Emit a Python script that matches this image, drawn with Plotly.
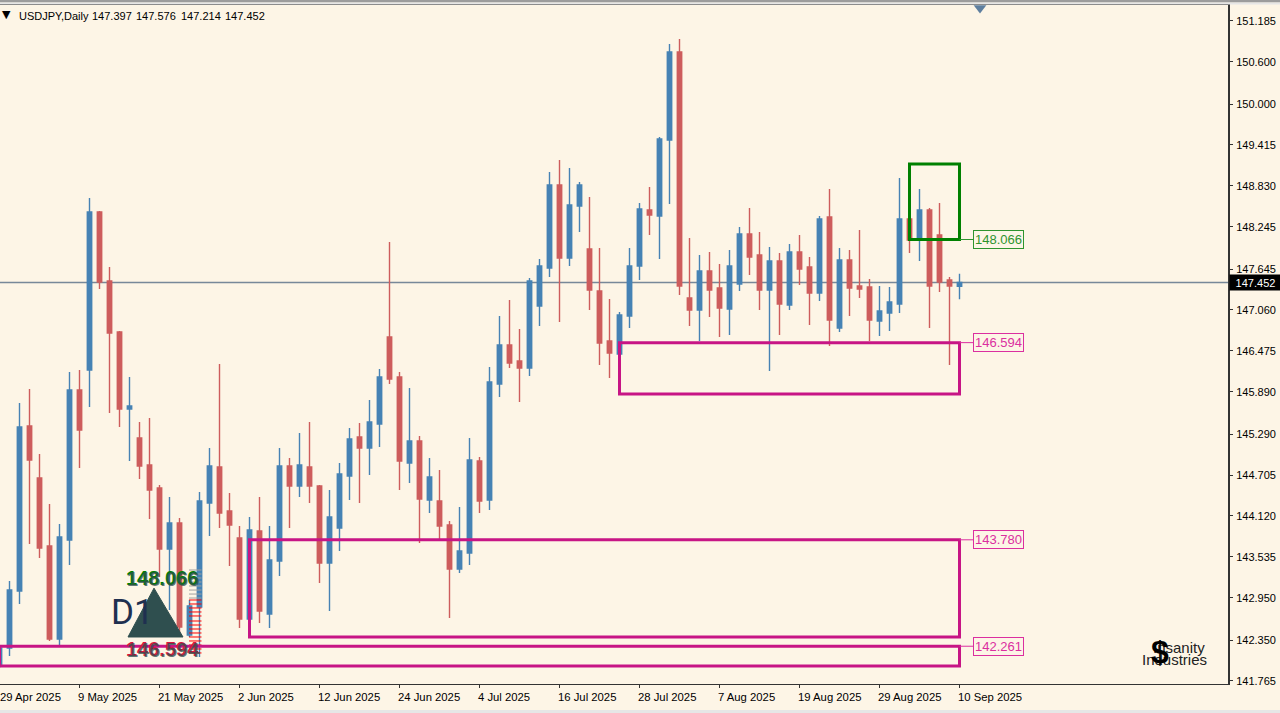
import plotly.graph_objects as go

BG = "#FDF5E6"
BLUE = "#4682B4"
RED = "#CD5C5C"
MAGENTA = "#C71585"
GREEN = "#008000"
SLATE = "#2F4F4F"
FONT = "Liberation Sans"

opens = [141.979,142.236,143.049,145.404,144.662,143.692,142.364,143.777,145.918,146.204,
148.459,147.474,146.746,145.647,145.232,144.847,144.519,143.649,144.020,142.421,
142.821,144.305,144.819,144.191,143.806,142.650,143.906,142.721,143.477,144.833,
144.548,144.819,144.548,143.449,143.948,144.691,145.247,145.090,145.433,146.675,
146.104,144.876,145.190,144.348,144.334,143.991,143.363,143.592,144.905,144.348,
146.004,146.560,146.332,146.232,147.117,147.660,148.844,147.802,148.545,147.931,
147.331,146.618,146.432,146.974,147.688,148.488,148.402,149.487,150.743,147.231,
147.060,147.617,147.374,147.075,147.431,148.145,147.845,147.346,147.759,147.131,
147.888,147.674,147.303,148.388,146.803,147.774,147.403,147.388,146.903,147.017,
147.146,148.359,148.073,148.488,148.131,147.488,147.397]
closes = [142.236,143.063,145.390,144.919,143.663,142.364,143.820,145.918,145.347,148.459,
147.460,146.732,145.647,145.689,144.833,144.491,143.649,144.020,142.536,142.835,
144.334,144.833,144.162,143.991,142.650,143.920,142.764,143.492,144.833,144.548,
144.847,144.548,143.449,144.106,144.719,145.219,145.090,145.461,146.104,146.075,
144.905,145.190,144.362,144.676,143.977,143.363,143.621,144.919,144.334,146.033,
146.560,146.303,146.232,147.474,147.688,148.844,147.802,148.559,148.844,147.346,
146.589,146.446,146.989,147.688,148.502,148.416,149.501,150.743,147.403,147.060,
147.617,147.346,147.089,147.688,148.145,147.816,147.346,147.759,147.146,147.888,
147.645,147.303,148.359,146.917,147.774,147.374,147.360,146.917,147.046,147.174,
148.359,148.059,148.488,147.403,147.460,147.403,147.452]
highs = [142.279,143.192,145.732,145.933,145.004,144.291,144.005,146.175,146.204,148.659,
148.473,147.674,146.761,146.104,145.461,145.518,144.562,144.391,144.091,142.921,
144.462,145.090,146.289,144.448,143.977,144.106,144.391,143.977,145.090,144.948,
145.304,145.461,144.562,144.491,144.876,145.376,145.447,145.775,146.218,148.030,
146.175,145.947,145.262,144.948,144.776,144.049,144.248,145.232,144.962,146.247,
146.974,147.203,146.789,147.517,147.788,149.030,149.201,149.087,148.887,148.673,
147.945,147.217,147.031,147.945,148.587,148.816,149.529,150.857,150.928,148.088,
147.845,147.888,147.717,147.916,148.245,148.516,148.174,147.959,147.874,148.002,
148.131,147.816,148.402,148.787,147.945,147.916,148.202,147.502,147.403,147.388,
148.944,148.373,148.787,148.516,148.587,147.531,147.576]
lows = [141.951,142.122,142.864,143.720,143.520,142.336,142.279,143.420,144.805,145.675,
147.360,145.589,145.390,144.905,144.648,144.077,143.250,142.778,142.407,142.393,
142.108,143.834,143.948,143.406,142.521,142.379,142.593,142.521,143.264,143.948,
144.391,144.305,143.164,142.764,143.621,144.348,144.305,144.705,145.105,146.004,
144.491,144.591,143.735,144.162,143.763,142.664,143.306,143.420,144.162,144.205,
145.818,146.232,145.747,146.118,146.832,147.531,146.889,147.688,148.174,147.060,
146.275,146.090,146.418,146.803,147.488,148.131,147.788,148.573,147.274,146.832,
146.618,146.960,146.675,146.703,147.331,147.560,147.060,146.189,146.703,147.060,
147.417,146.846,147.189,146.546,146.746,146.974,147.231,146.618,146.689,146.761,
147.017,147.874,147.759,146.803,147.317,146.275,147.214]

date_tick_index = [0,8,16,24,32,40,48,56,64,72,80,88,96]
date_tick_labels = ["29 Apr 2025","9 May 2025","21 May 2025","2 Jun 2025","12 Jun 2025","24 Jun 2025",
                    "4 Jul 2025","16 Jul 2025","28 Jul 2025","7 Aug 2025","19 Aug 2025","29 Aug 2025","10 Sep 2025"]
price_ticks = [151.185,150.600,150.000,149.415,148.830,148.245,147.645,147.060,146.475,
               145.890,145.290,144.705,144.120,143.535,142.950,142.350,141.765]

header_values = ["147.397", "147.576", "147.214", "147.452"]
last_price = 147.452
# boxes: start candle, top, bottom, colour
zones = [
    (91, 149.144, 148.066, GREEN),
    (62, 146.594, 145.861, MAGENTA),
    (25, 143.780, 142.393, MAGENTA),
    (0,  142.261, 141.979, MAGENTA),
]
zone_end = 96
zone_labels = [("148.066", 148.066, GREEN, "#2E942E"), ("146.594", 146.594, MAGENTA, "#DB2FA0"),
               ("143.780", 143.780, MAGENTA, "#DB2FA0"), ("142.261", 142.261, MAGENTA, "#DB2FA0")]
grey_ladder = [143.349,143.292,143.235,143.178,143.121,143.063,143.006,142.949]
red_ladder = [142.921,142.864,142.807,142.750,142.693,142.621,142.564,142.507,142.450,142.393,142.336,142.279,142.222,142.165]

x = list(range(len(opens)))
W, H = 1280, 713
ML, MR, MT, MB = 0, 52, 5, 29
PW, PH = W - ML - MR, H - MT - MB
X_START = 0.05

fig = go.Figure()
fig.add_trace(go.Candlestick(
    x=x, open=opens, high=highs, low=lows, close=closes, whiskerwidth=0,
    increasing=dict(line=dict(color=BLUE, width=1.4), fillcolor=BLUE),
    decreasing=dict(line=dict(color=RED, width=1.4), fillcolor=RED),
    showlegend=False, hoverinfo="skip"))

def ladder(levels, color, w=1):
    xs, ys = [], []
    for lv in levels:
        xs += [18.95, 20.2, None]
        ys += [lv, lv, None]
    fig.add_trace(go.Scatter(x=xs, y=ys, mode="lines", line=dict(color=color, width=w),
                             showlegend=False, hoverinfo="skip"))
ladder(grey_ladder, "#A0A0A0")
ladder(red_ladder, "#FF0000")

fig.add_trace(go.Scatter(x=[98.05], y=[151.37], mode="markers",
                         marker=dict(symbol="triangle-down", size=11, color="#5F7F9F"),
                         showlegend=False, hoverinfo="skip"))

shapes = [dict(type="line", xref="paper", yref="y", x0=0, x1=1, y0=last_price, y1=last_price,
               line=dict(color="#778899", width=1.4), layer="below")]
for start, top, bottom, col in zones:
    shapes.append(dict(type="rect", xref="x", yref="y", x0=start, x1=zone_end, y0=bottom, y1=top,
                       line=dict(color=col, width=3), fillcolor="rgba(0,0,0,0)", layer="above"))
for txt, lv, col, tcol in zone_labels:
    shapes.append(dict(type="line", xref="x", yref="y", x0=zone_end, x1=97.35, y0=lv, y1=lv,
                       line=dict(color=tcol, width=1), layer="above"))
shapes.append(dict(type="path", xref="x", yref="y",
                   path="M 12.85,142.393 L 15.45,143.09 L 18.35,142.393 Z",
                   fillcolor=SLATE, line=dict(color=SLATE, width=1), layer="above"))
# window chrome above and below the chart
shapes.append(dict(type="rect", xref="paper", yref="paper", x0=0, x1=W/PW, y0=(PH+MT-2.5)/PH, y1=(PH+MT)/PH,
                   fillcolor="#9C9C9C", line=dict(width=0), layer="above"))
shapes.append(dict(type="rect", xref="paper", yref="paper", x0=0, x1=W/PW, y0=(PH+MT-4.5)/PH, y1=(PH+MT-2.5)/PH,
                   fillcolor="#E6E6E6", line=dict(width=0), layer="above"))
shapes.append(dict(type="rect", xref="paper", yref="paper", x0=0, x1=W/PW, y0=-MB/PH, y1=(-MB+3)/PH,
                   fillcolor="#E6E6E6", line=dict(width=0), layer="above"))

ann = []
def a(text, px, py, size=11, color="#000000", anchor="left", family=FONT, weight=None, **kw):
    f = dict(size=size, color=color, family=family)
    if weight:
        f["weight"] = weight
    ann.append(dict(text=text, xref="paper", yref="paper", x=px/PW, y=1-(py-MT)/PH, xanchor=anchor,
                    yanchor="middle", showarrow=False, font=f, **kw))

for i, lab in zip(date_tick_index, date_tick_labels):
    ann.append(dict(text=lab, xref="x", yref="paper", x=max(i, X_START), y=-12.5/PH, xanchor="left", yanchor="middle",
                    showarrow=False, xshift=(-2 if i else 0), font=dict(size=11.3, color="#000", family=FONT), borderpad=0, borderwidth=0))
for txt, lv, col, tcol in zone_labels:
    ann.append(dict(text=txt, xref="x", yref="y", x=97.35, y=lv, xanchor="left", yanchor="middle", showarrow=False,
                    font=dict(size=13, color=tcol, family=FONT), bordercolor=tcol, borderwidth=1, borderpad=1, bgcolor=BG))
ann.append(dict(text=f"{last_price:.3f}", xref="paper", yref="y", x=(1231+24.5)/PW, y=last_price, xanchor="center",
                yanchor="middle", showarrow=False, font=dict(size=11, color="#FFFFFF", family=FONT),
                bgcolor="#000000", borderpad=1, width=49, height=13))
a("▼", 0, 15, size=11, family="DejaVu Sans")
a("USDJPY,Daily", 17, 16)
for k, v in enumerate(header_values):
    a(v, 90 + 44.4 * k, 16)
# D1 widget
a("D1", 109, 612, size=35, color="#1F3050", family="Roboto", weight=400)
a("148.066", 124, 578, size=20, color=GREEN, weight="bold")
a("148.066", 125, 579, size=20, color="rgba(47,79,79,0.75)", weight="bold")
a("146.594", 124, 649, size=20, color="#DC143C", weight="bold")
a("146.594", 125, 650, size=20, color="rgba(47,79,79,0.75)", weight="bold")
# logo
a("Insanity", 1178.5, 647, size=15, color="#222222", anchor="center")
a("Industries", 1174.5, 659, size=15, color="#222222", anchor="center")
a("$", 1159.5, 652, size=32, color="#000000", anchor="center", weight="bold")

fig.update_layout(
    width=W, height=H, margin=dict(l=ML, r=MR, t=MT, b=MB, autoexpand=False),
    paper_bgcolor=BG, plot_bgcolor=BG, boxgap=0.37, showlegend=False,
    xaxis=dict(range=[X_START, 122.85], rangeslider=dict(visible=False), showgrid=False, zeroline=False,
               tickmode="array", tickvals=date_tick_index, ticktext=[""]*len(date_tick_index), ticks="outside", ticklen=3,
               tickcolor="#333333", showline=True, linecolor="#333333", linewidth=1, mirror=True),
    yaxis=dict(range=[141.722, 151.413], side="right", showgrid=False, zeroline=False,
               tickmode="array", tickvals=price_ticks, ticktext=[f"{t:.3f}" for t in price_ticks],
               ticks="outside", ticklen=3, tickcolor="#333333", showline=True, linecolor="#333333", linewidth=2,
               tickfont=dict(size=11, color="#000", family=FONT), ticklabelstandoff=1),
    shapes=shapes, annotations=ann,
)
fig.write_html("out.html", config=dict(displayModeBar=False),
               post_script="document.body.style.margin='0';document.documentElement.style.overflow='hidden';")
